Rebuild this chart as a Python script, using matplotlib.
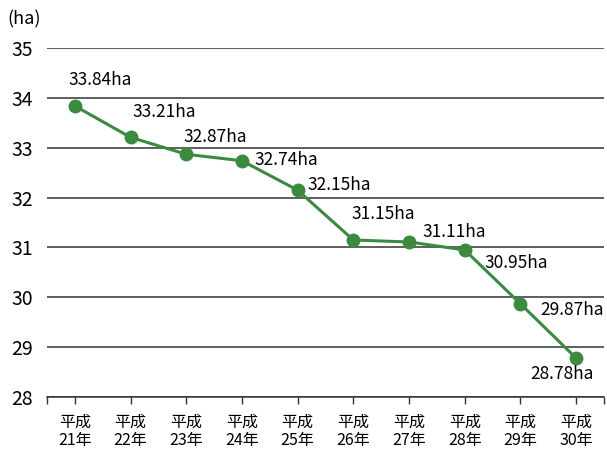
import matplotlib
matplotlib.use("Agg")
import matplotlib.pyplot as plt

plt.rcParams['font.family'] = ['Noto Sans CJK JP', 'DejaVu Sans']

years = ['平成\n21年', '平成\n22年', '平成\n23年', '平成\n24年', '平成\n25年',
         '平成\n26年', '平成\n27年', '平成\n28年', '平成\n29年', '平成\n30年']
area = [33.84, 33.21, 32.87, 32.74, 32.15, 31.15, 31.11, 30.95, 29.87, 28.78]
# label offsets from each point, in pixels (x right, y up)
label_dx = [25, 34, 29, 44, 42, 30, 45, 51, 52, -14]
label_dy = [26, 25, 17, 1, 5, 26, 10, -13, -6, -16]

green = '#3b8a3f'

fig = plt.figure(figsize=(6.07, 4.54), dpi=100)
ax = fig.add_axes([0.0774, 0.1256, 0.9176, 0.7684])

x = list(range(len(area)))
ax.plot(x, area, color=green, lw=2.2, marker='o', ms=9, zorder=3)

for xi, v, dx, dy in zip(x, area, label_dx, label_dy):
    ax.annotate(f'{v:.2f}ha', (xi, v), xytext=(dx, dy), textcoords='offset pixels',
                ha='center', va='center', fontsize=12.5, color='black', zorder=4)

ax.set_xlim(-0.5, len(area) - 0.5)
ax.set_ylim(28, 35)
ax.set_yticks(range(28, 36))
ax.yaxis.grid(True, color='#333333', lw=1.1)
ax.set_axisbelow(True)

ax.set_xticks(x)
ax.set_xticklabels(years, fontsize=11.5, linespacing=1.1)
ax.set_xticks([-0.5, len(area) - 0.5], minor=True)
ax.tick_params(axis='x', which='both', direction='out', length=5, width=1, color='#333333', pad=7)
ax.tick_params(axis='y', length=0, pad=10, labelsize=14)

for s in ['top', 'right', 'left']:
    ax.spines[s].set_visible(False)
ax.spines['bottom'].set_color('#333333')
ax.spines['bottom'].set_linewidth(1.1)

fig.text(0.012, 0.957, '(ha)', fontsize=13, ha='left', va='center')

fig.savefig('out.png', dpi=100)
